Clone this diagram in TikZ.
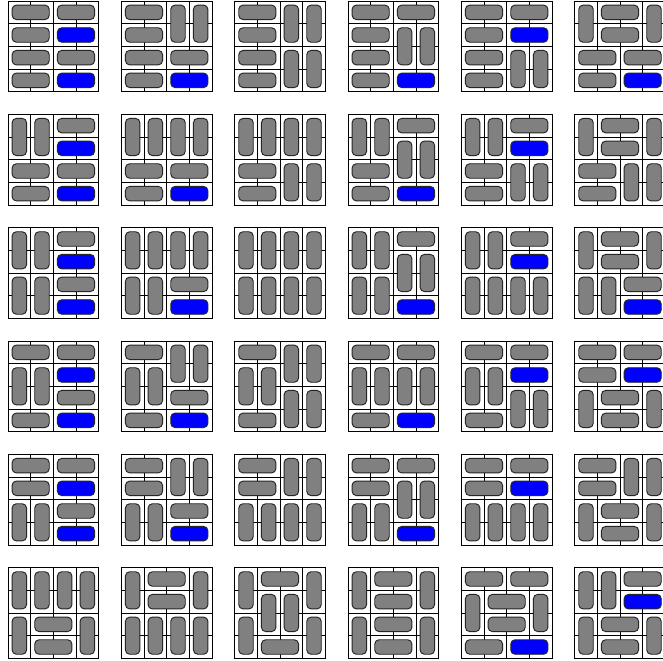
\documentclass[tikz,border=0pt]{standalone}
\usepackage{tikz}
\definecolor{domg}{RGB}{128,128,128}
\definecolor{domb}{RGB}{0,0,255}
\tikzset{
  gridline/.style={line width=0.9pt, black},
  outerline/.style={line width=1.1pt, black},
  domino/.style={line width=1.2pt, draw=black!85, rounded corners=1.9mm}
}
\newcommand\dominotile[3]{%
  \begin{scope}[shift={({0.353+5*#1},{-0.044-5*#2})}]
    \draw[gridline] (0,-4) grid (4,0);
    \foreach \rr/\cc/\ww/\hh/\ff in {#3} {
      \draw[domino, fill=dom\ff] ({\cc+0.18},{-\rr-0.18}) rectangle ({\cc+\ww-0.18},{-\rr-\hh+0.18});
    }
    \draw[outerline] (0,0) rectangle (4,-4);
  \end{scope}}
\begin{document}
\begin{tikzpicture}
\useasboundingbox (0,0) rectangle (29.25,-29.16);
\clip (0,0) rectangle (29.25,-29.16);
\fill[white] (0,0) rectangle (29.25,-29.16);
% row 1
\dominotile{0}{0}{0/0/2/1/g, 0/2/2/1/g, 1/0/2/1/g, 1/2/2/1/b, 2/0/2/1/g, 2/2/2/1/g, 3/0/2/1/g, 3/2/2/1/b}
\dominotile{1}{0}{0/0/2/1/g, 0/2/1/2/g, 0/3/1/2/g, 1/0/2/1/g, 2/0/2/1/g, 2/2/2/1/g, 3/0/2/1/g, 3/2/2/1/b}
\dominotile{2}{0}{0/0/2/1/g, 1/0/2/1/g, 2/0/2/1/g, 3/0/2/1/g, 0/2/1/2/g, 0/3/1/2/g, 2/2/1/2/g, 2/3/1/2/g}
\dominotile{3}{0}{0/0/2/1/g, 0/2/2/1/g, 1/0/2/1/g, 1/2/1/2/g, 1/3/1/2/g, 2/0/2/1/g, 3/0/2/1/g, 3/2/2/1/b}
\dominotile{4}{0}{0/0/2/1/g, 0/2/2/1/g, 1/0/2/1/g, 1/2/2/1/b, 2/0/2/1/g, 2/2/1/2/g, 2/3/1/2/g, 3/0/2/1/g}
\dominotile{5}{0}{0/0/1/2/g, 0/1/2/1/g, 0/3/1/2/g, 1/1/2/1/g, 2/0/2/1/g, 2/2/2/1/g, 3/0/2/1/g, 3/2/2/1/b}
% row 2
\dominotile{0}{1}{0/0/1/2/g, 0/1/1/2/g, 0/2/2/1/g, 1/2/2/1/b, 2/0/2/1/g, 2/2/2/1/g, 3/0/2/1/g, 3/2/2/1/b}
\dominotile{1}{1}{0/0/1/2/g, 0/1/1/2/g, 0/2/1/2/g, 0/3/1/2/g, 2/0/2/1/g, 2/2/2/1/g, 3/0/2/1/g, 3/2/2/1/b}
\dominotile{2}{1}{0/0/1/2/g, 0/1/1/2/g, 0/2/1/2/g, 0/3/1/2/g, 2/0/2/1/g, 3/0/2/1/g, 2/2/1/2/g, 2/3/1/2/g}
\dominotile{3}{1}{0/0/1/2/g, 0/1/1/2/g, 0/2/2/1/g, 1/2/1/2/g, 1/3/1/2/g, 2/0/2/1/g, 3/0/2/1/g, 3/2/2/1/b}
\dominotile{4}{1}{0/0/1/2/g, 0/1/1/2/g, 0/2/2/1/g, 1/2/2/1/b, 2/0/2/1/g, 3/0/2/1/g, 2/2/1/2/g, 2/3/1/2/g}
\dominotile{5}{1}{0/0/1/2/g, 0/1/2/1/g, 0/3/1/2/g, 1/1/2/1/g, 2/0/2/1/g, 3/0/2/1/g, 2/2/1/2/g, 2/3/1/2/g}
% row 3
\dominotile{0}{2}{0/0/1/2/g, 0/1/1/2/g, 0/2/2/1/g, 1/2/2/1/b, 2/0/1/2/g, 2/1/1/2/g, 2/2/2/1/g, 3/2/2/1/b}
\dominotile{1}{2}{0/0/1/2/g, 0/1/1/2/g, 0/2/1/2/g, 0/3/1/2/g, 2/0/1/2/g, 2/1/1/2/g, 2/2/2/1/g, 3/2/2/1/b}
\dominotile{2}{2}{0/0/1/2/g, 0/1/1/2/g, 0/2/1/2/g, 0/3/1/2/g, 2/0/1/2/g, 2/1/1/2/g, 2/2/1/2/g, 2/3/1/2/g}
\dominotile{3}{2}{0/0/1/2/g, 0/1/1/2/g, 0/2/2/1/g, 1/2/1/2/g, 1/3/1/2/g, 2/0/1/2/g, 2/1/1/2/g, 3/2/2/1/b}
\dominotile{4}{2}{0/0/1/2/g, 0/1/1/2/g, 0/2/2/1/g, 1/2/2/1/b, 2/0/1/2/g, 2/1/1/2/g, 2/2/1/2/g, 2/3/1/2/g}
\dominotile{5}{2}{0/0/1/2/g, 0/1/2/1/g, 0/3/1/2/g, 1/1/2/1/g, 2/0/1/2/g, 2/1/1/2/g, 2/2/2/1/g, 3/2/2/1/b}
% row 4
\dominotile{0}{3}{0/0/2/1/g, 0/2/2/1/g, 1/0/1/2/g, 1/1/1/2/g, 1/2/2/1/b, 2/2/2/1/g, 3/0/2/1/g, 3/2/2/1/b}
\dominotile{1}{3}{0/0/2/1/g, 0/2/1/2/g, 0/3/1/2/g, 1/0/1/2/g, 1/1/1/2/g, 2/2/2/1/g, 3/0/2/1/g, 3/2/2/1/b}
\dominotile{2}{3}{0/0/2/1/g, 0/2/1/2/g, 0/3/1/2/g, 1/0/1/2/g, 1/1/1/2/g, 2/2/1/2/g, 2/3/1/2/g, 3/0/2/1/g}
\dominotile{3}{3}{0/0/2/1/g, 0/2/2/1/g, 1/0/1/2/g, 1/1/1/2/g, 1/2/1/2/g, 1/3/1/2/g, 3/0/2/1/g, 3/2/2/1/b}
\dominotile{4}{3}{0/0/2/1/g, 0/2/2/1/g, 1/0/1/2/g, 1/1/1/2/g, 1/2/2/1/b, 2/2/1/2/g, 2/3/1/2/g, 3/0/2/1/g}
\dominotile{5}{3}{0/0/2/1/g, 0/2/2/1/g, 1/0/2/1/g, 1/2/2/1/b, 2/0/1/2/g, 2/1/2/1/g, 2/3/1/2/g, 3/1/2/1/g}
% row 5
\dominotile{0}{4}{0/0/2/1/g, 0/2/2/1/g, 1/0/2/1/g, 1/2/2/1/b, 2/0/1/2/g, 2/1/1/2/g, 2/2/2/1/g, 3/2/2/1/b}
\dominotile{1}{4}{0/0/2/1/g, 0/2/1/2/g, 0/3/1/2/g, 1/0/2/1/g, 2/0/1/2/g, 2/1/1/2/g, 2/2/2/1/g, 3/2/2/1/b}
\dominotile{2}{4}{0/0/2/1/g, 0/2/1/2/g, 0/3/1/2/g, 1/0/2/1/g, 2/0/1/2/g, 2/1/1/2/g, 2/2/1/2/g, 2/3/1/2/g}
\dominotile{3}{4}{0/0/2/1/g, 0/2/2/1/g, 1/0/2/1/g, 1/2/1/2/g, 1/3/1/2/g, 2/0/1/2/g, 2/1/1/2/g, 3/2/2/1/b}
\dominotile{4}{4}{0/0/2/1/g, 0/2/2/1/g, 1/0/2/1/g, 1/2/2/1/b, 2/0/1/2/g, 2/1/1/2/g, 2/2/1/2/g, 2/3/1/2/g}
\dominotile{5}{4}{0/0/2/1/g, 0/2/1/2/g, 0/3/1/2/g, 1/0/2/1/g, 2/0/1/2/g, 2/1/2/1/g, 2/3/1/2/g, 3/1/2/1/g}
% row 6
\dominotile{0}{5}{0/0/1/2/g, 0/1/1/2/g, 0/2/1/2/g, 0/3/1/2/g, 2/0/1/2/g, 2/1/2/1/g, 2/3/1/2/g, 3/1/2/1/g}
\dominotile{1}{5}{0/0/1/2/g, 0/1/2/1/g, 0/3/1/2/g, 1/1/2/1/g, 2/0/1/2/g, 2/1/1/2/g, 2/2/1/2/g, 2/3/1/2/g}
\dominotile{2}{5}{0/0/1/2/g, 0/1/2/1/g, 0/3/1/2/g, 1/1/1/2/g, 1/2/1/2/g, 2/0/1/2/g, 2/3/1/2/g, 3/1/2/1/g}
\dominotile{3}{5}{0/0/1/2/g, 0/1/2/1/g, 0/3/1/2/g, 1/1/2/1/g, 2/0/1/2/g, 2/1/2/1/g, 2/3/1/2/g, 3/1/2/1/g}
\dominotile{4}{5}{0/0/2/1/g, 0/2/2/1/g, 1/0/1/2/g, 1/1/2/1/g, 1/3/1/2/g, 2/1/2/1/g, 3/0/2/1/g, 3/2/2/1/b}
\dominotile{5}{5}{0/0/1/2/g, 0/1/1/2/g, 0/2/2/1/g, 1/2/2/1/b, 2/0/1/2/g, 2/1/2/1/g, 2/3/1/2/g, 3/1/2/1/g}
\end{tikzpicture}
\end{document}
